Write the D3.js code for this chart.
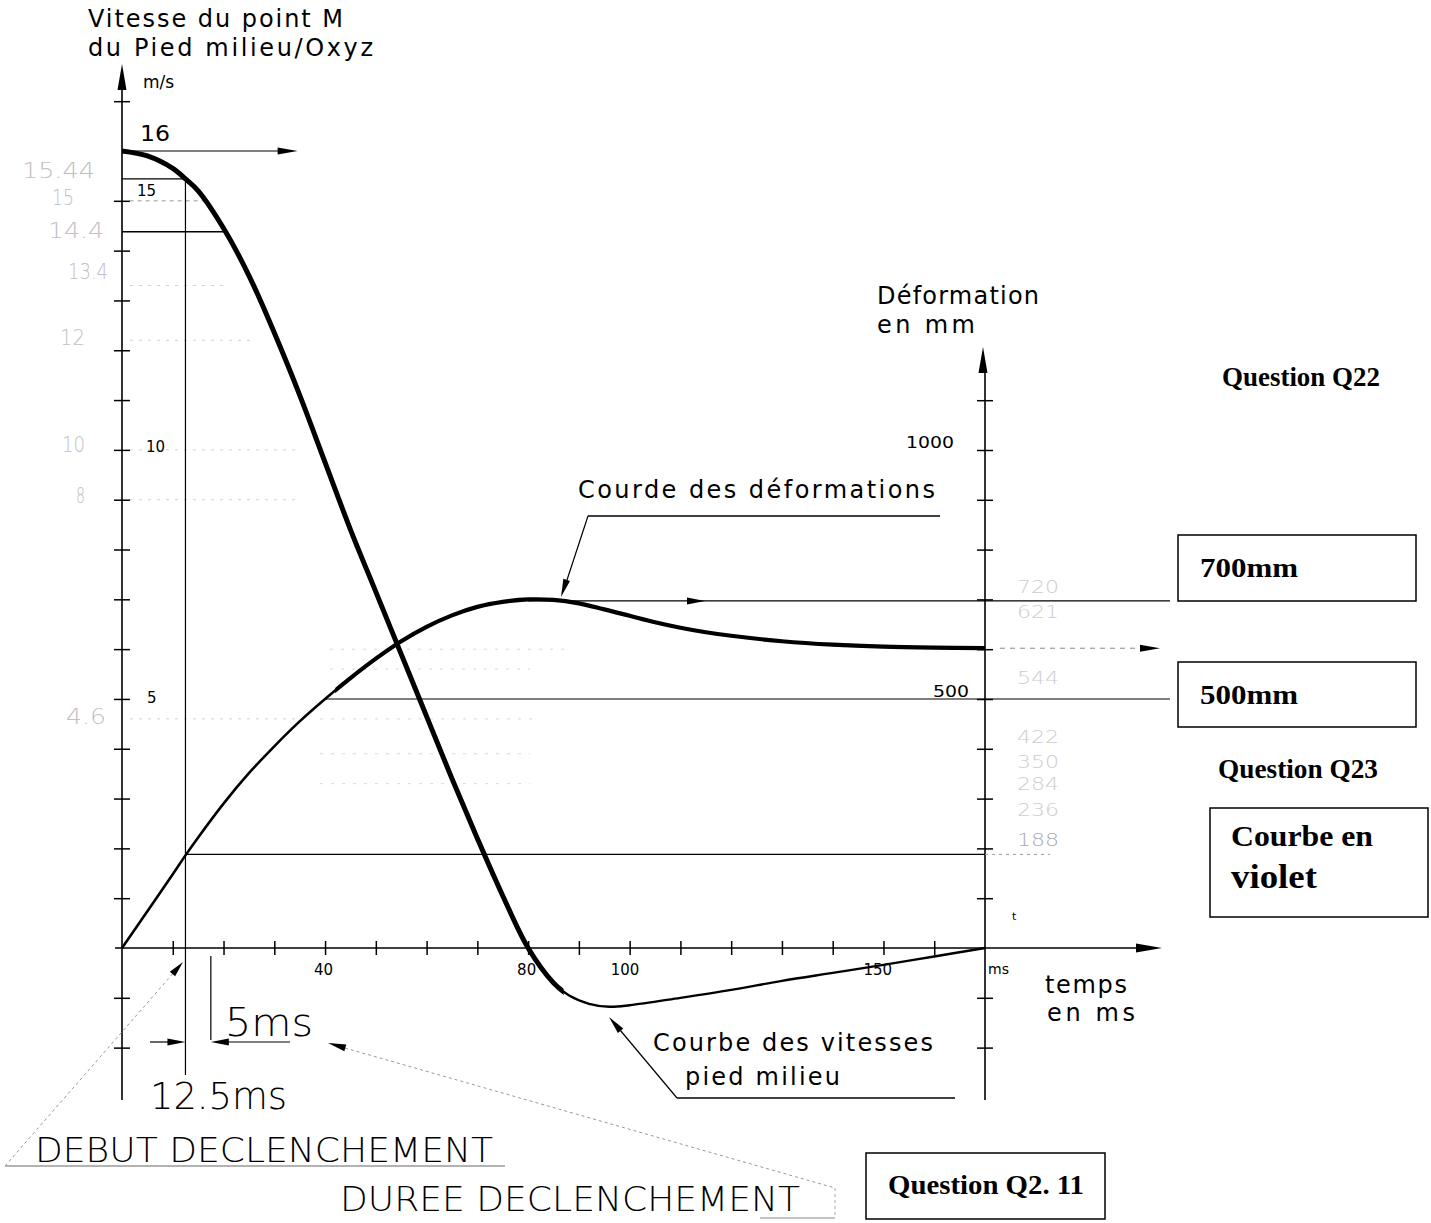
<!DOCTYPE html>
<html><head><meta charset="utf-8">
<script src="https://cdn.jsdelivr.net/npm/d3@7"></script>
<style>body{margin:0;background:#fff}svg{display:block}</style>
</head><body>
<svg id="c" width="1431" height="1223"></svg>
<script>
// ---------- DATA ----------
const velTime  = [0,5,10,12.5,15,20,25,30,35,40,45,50,55,60,65,70,75,80,85,88,92,96,100,110,120,130,140,150,160,170];
const velValue = [16,15.9,15.65,15.44,15.2,14.45,13.5,12.35,11.1,9.75,8.4,7.15,5.9,4.65,3.4,2.2,1.05,0,-0.7,-0.95,-1.12,-1.18,-1.15,-1.0,-0.84,-0.66,-0.5,-0.34,-0.17,0];
const defTime  = [0,5,10,12.5,15,20,25,30,35,40,45,50,55,60,65,70,75,80,85,90,95,100,105,110,115,120,130,140,150,160,170];
const defValue = [0,74,148,186,222,290,351,405,455,500,542,581,616,645,668,685,695,700,699,692,680,667,654,643,634,627,616,609,605,603,602];
const timeTickLabels  = [40,80,100,150];
const speedTickLabels = [5,10,15];
const defTickLabels   = [500,1000];
const faintSpeedLabels = ["15.44","15","14.4","13.4","12","10","8","4.6"];
const faintDefLabels   = ["720","621","544","422","350","284","236","188"];
const boxLabels = ["700mm","500mm"];

// ---------- SCALES ----------
const svg = d3.select("#c");
const x  = d3.scaleLinear().domain([0,170]).range([122,985]);
const yV = d3.scaleLinear().domain([0,16]).range([948,151]);
const yD = d3.scaleLinear().domain([0,1000]).range([948,450]);
const FONT = "'DejaVu Sans', sans-serif";
const SERIF = "'Liberation Serif', 'Times New Roman', serif";

function txt(x0,y0,s,size,opt={}){
  const t = svg.append("text").attr("x",x0).attr("y",y0).text(s)
    .attr("font-family",opt.family||FONT).attr("font-size",size)
    .attr("fill",opt.fill||"#000").attr("font-weight",opt.weight||"normal");
  if(opt.width){t.attr("textLength",opt.width).attr("lengthAdjust",opt.adj||"spacingAndGlyphs");}
  return t;
}
function line(x1,y1,x2,y2,w=1,opt={}){
  const l = svg.append("line").attr("x1",x1).attr("y1",y1).attr("x2",x2).attr("y2",y2)
    .attr("stroke",opt.stroke||"#000").attr("stroke-width",w);
  if(opt.dash) l.attr("stroke-dasharray",opt.dash);
  return l;
}
function arrow(xt,yt,ang,len=16,hw=3.5,fill="#000"){
  const a = ang*Math.PI/180, ca=Math.cos(a), sa=Math.sin(a);
  const bx = xt-len*ca, by = yt-len*sa;
  const p = [[xt,yt],[bx-hw*sa,by+hw*ca],[bx+hw*sa,by-hw*ca]];
  svg.append("polygon").attr("points",p.map(d=>d.join(",")).join(" ")).attr("fill",fill);
}
function angle(x1,y1,x2,y2){return Math.atan2(y2-y1,x2-x1)*180/Math.PI;}

// ---------- FAINT SCAN LABELS ----------
const faintLeftPos = [[22,178,73],[52,205,22],[48,238,56],[68,279,40],[60,345,25],[62,452,23],[76,503,9],[66,724,40]];
faintSpeedLabels.forEach((s,i)=>{const p=faintLeftPos[i];
  txt(p[0],p[1],s,21,{fill:"#c0c0c0",width:p[2],weight:200});});
const faintRightPos = [[1017,593],[1017,618],[1017,684],[1017,743],[1017,768],[1017,790],[1017,816],[1017,846]];
faintDefLabels.forEach((s,i)=>{const p=faintRightPos[i];
  txt(p[0],p[1],s,18,{fill:i===7?"#aaa":"#cdcdcd",width:42,weight:200});});

// faint dotted scan lines
[[13.3,130,225],[12.2,130,250],[10,130,300],[9,130,300],[4.6,130,300]].forEach(d=>{
  line(d[1],yV(d[0]),d[2],yV(d[0]),1,{stroke:"#d0d0d0",dash:"3,6"});});
[[600,330,570],[560,330,530],[460,320,540],[390,320,530],[330,320,530]].forEach(d=>{
  line(d[1],yD(d[0]),d[2],yD(d[0]),1,{stroke:"#d8d8d8",dash:"3,8"});});

// ---------- AXES ----------
line(x(0),1100,x(0),80,1.6);
arrow(x(0),64,-90,26,4.5);
const leftTicks = d3.range(-2,18).filter(v=>v!==0&&v!==16);
svg.append("g").attr("transform",`translate(${x(0)-8},0)`)
  .call(d3.axisRight(yV).tickValues(leftTicks).tickSize(16).tickFormat(""))
  .call(g=>g.select(".domain").remove())
  .call(g=>g.selectAll("line").attr("stroke","#000").attr("stroke-width",1.5));

line(115,948,1145,948,1.6);
arrow(1162,948,0,26,4.5);
svg.append("g").attr("transform",`translate(0,${948-7})`)
  .call(d3.axisBottom(x).tickValues(d3.range(10,170,10)).tickSize(14).tickFormat(""))
  .call(g=>g.select(".domain").remove())
  .call(g=>g.selectAll("line").attr("stroke","#000").attr("stroke-width",1.5));

line(x(170),1100,x(170),370,1.6);
arrow(x(170)-2,347,-90,26,4.5);
const rightTicks = d3.range(-200,1200,100).filter(v=>v!==0);
svg.append("g").attr("transform",`translate(${x(170)-8},0)`)
  .call(d3.axisRight(yD).tickValues(rightTicks).tickSize(16).tickFormat(""))
  .call(g=>g.select(".domain").remove())
  .call(g=>g.selectAll("line").attr("stroke","#000").attr("stroke-width",1.5));

// tick labels
const timeLblDx = {40:-11,80:-11,100:-19,150:-20};
timeTickLabels.forEach(t=>txt(x(t)+timeLblDx[t],975,String(t),15));
txt(988,974,"ms",14);
speedTickLabels.forEach(v=>{
  const pos = {15:[137,196],10:[146,452],5:[147,703]}[v];
  txt(pos[0],pos[1],String(v),15);});
txt(140,141,"16",22,{width:30});
txt(906,448,String(defTickLabels[1]),15,{width:48});
txt(933,697,String(defTickLabels[0]),15,{width:36});
txt(1012,920,"t",11);

// axis titles
txt(88,27,"Vitesse du point M",24,{width:255,adj:"spacing"});
txt(88,56,"du Pied milieu/Oxyz",24,{width:285,adj:"spacing"});
txt(143,88,"m/s",17);
txt(877,304,"Déformation",24,{width:162,adj:"spacing"});
txt(877,333,"en mm",24,{width:98,adj:"spacing"});
txt(1045,993,"temps",24,{width:82,adj:"spacing"});
txt(1047,1021,"en ms",24,{width:88,adj:"spacing"});

// ---------- REFERENCE / ANNOTATION LINES ----------
line(x(0),yV(16),x(33),yV(16),1.2);
arrow(x(34.6),yV(16),0,20,3.5);
line(x(0),yV(15.44),x(12.5),yV(15.44),1.2);
line(x(1.5),yV(15),x(16.5),yV(15),1,{stroke:"#999",dash:"4,4"});
line(x(0),yV(14.38),x(20.9),yV(14.38),1.4);
line(x(12.5),yV(15.44),x(12.5),1075,1.2);
line(x(17.5),956,x(17.5),1040,1.2);
line(150,1042,x(12.5)-16,1042,1.2); arrow(x(12.5),1042,0,18,3.5);
line(x(17.5)+16,1042,290,1042,1.2); arrow(x(17.5),1042,180,18,3.5);
txt(225,1036,"5ms",39,{width:88,weight:200,adj:"spacingAndGlyphs"});
txt(150,1109,"12.5ms",38,{width:137,weight:200,adj:"spacingAndGlyphs"});

line(x(12.5),yD(188),x(170),yD(188),1.2);
line(x(170),yD(188),1050,yD(188),1,{stroke:"#999",dash:"3,4"});
line(x(40),yD(500),1170,yD(500),1.2);
line(x(80),yD(697),1170,yD(697),1.2);
arrow(705,yD(697),0,18,3.5);
line(1000,yD(602),1140,yD(602),1,{stroke:"#888",dash:"5,5"});
arrow(1160,yD(602),0,20,3.5);

// ---------- CURVES ----------
const defs = svg.append("defs");
defs.append("clipPath").attr("id","clipDef").append("rect")
  .attr("x",x(42)).attr("y",0).attr("width",1431).attr("height",1223);
defs.append("clipPath").attr("id","clipVel").append("rect")
  .attr("x",0).attr("y",0).attr("width",x(87)).attr("height",1223);
const velData = velTime.map((t,i)=>({t,v:velValue[i]}));
const defData = defTime.map((t,i)=>({t,d:defValue[i]}));
const lv = d3.line().x(d=>x(d.t)).y(d=>yV(d.v)).curve(d3.curveCatmullRom.alpha(0.5));
const ld = d3.line().x(d=>x(d.t)).y(d=>yD(d.d)).curve(d3.curveCatmullRom.alpha(0.5));
svg.append("path").datum(defData).attr("d",ld)
  .attr("fill","none").attr("stroke","#000").attr("stroke-width",2.6);
svg.append("path").datum(defData).attr("d",ld).attr("clip-path","url(#clipDef)")
  .attr("fill","none").attr("stroke","#000").attr("stroke-width",4.2);
svg.append("path").datum(velData).attr("d",lv)
  .attr("fill","none").attr("stroke","#000").attr("stroke-width",2.4);
svg.append("path").datum(velData).attr("d",lv).attr("clip-path","url(#clipVel)")
  .attr("fill","none").attr("stroke","#000").attr("stroke-width",5).attr("stroke-linejoin","round");

// ---------- CURVE LABELS ----------
txt(578,498,"Courde des déformations",24,{width:357,adj:"spacing"});
line(588,516,940,516,1.3);
line(588,516,566,583,1.2);
arrow(561,597,angle(588,516,561,597),18,3.5);
txt(653,1051,"Courbe des vitesses",24,{width:280,adj:"spacing"});
txt(685,1085,"pied milieu",24,{width:155,adj:"spacing"});
line(677,1098,955,1098,1.3);
line(677,1098,620,1030,1.2);
arrow(609,1017,angle(677,1098,609,1017),18,3.5);

// DEBUT / DUREE DECLENCHEMENT
txt(35,1162,"DEBUT DECLENCHEMENT",33,{width:458,weight:200,adj:"spacingAndGlyphs"});
line(5,1166,505,1166,1,{stroke:"#666"});
line(5,1166,176,970,1,{stroke:"#999",dash:"3,3"});
arrow(183,962,angle(5,1166,183,962),16,3.5);
txt(340,1211,"DUREE DECLENCHEMENT",33,{width:460,weight:200,adj:"spacingAndGlyphs"});
line(760,1218,835,1218,1.2,{stroke:"#888"});
line(835,1188,835,1216,1,{stroke:"#aaa",dash:"3,3"});
line(345,1048,835,1188,1,{stroke:"#999",dash:"3,3"});
arrow(328,1043,angle(835,1188,328,1043),18,3.5);

// ---------- RIGHT-HAND BOXES ----------
txt(1222,386,"Question Q22",27,{family:SERIF,weight:"bold",width:158});
svg.append("rect").attr("x",1178).attr("y",535).attr("width",238).attr("height",66).attr("fill","none").attr("stroke","#000").attr("stroke-width",1.5);
txt(1200,577,boxLabels[0],27,{family:SERIF,weight:"bold",width:98});
svg.append("rect").attr("x",1178).attr("y",662).attr("width",238).attr("height",65).attr("fill","none").attr("stroke","#000").attr("stroke-width",1.5);
txt(1200,704,boxLabels[1],27,{family:SERIF,weight:"bold",width:98});
txt(1218,778,"Question Q23",27,{family:SERIF,weight:"bold",width:160});
svg.append("rect").attr("x",1210).attr("y",808).attr("width",218).attr("height",109).attr("fill","none").attr("stroke","#000").attr("stroke-width",1.5);
txt(1231,846,"Courbe en",29,{family:SERIF,weight:"bold",width:142});
txt(1231,888,"violet",33,{family:SERIF,weight:"bold",width:86});
svg.append("rect").attr("x",866).attr("y",1153).attr("width",239).attr("height",66).attr("fill","none").attr("stroke","#000").attr("stroke-width",1.5);
txt(888,1194,"Question Q2. 11",27,{family:SERIF,weight:"bold",width:196});
</script>
</body></html>
